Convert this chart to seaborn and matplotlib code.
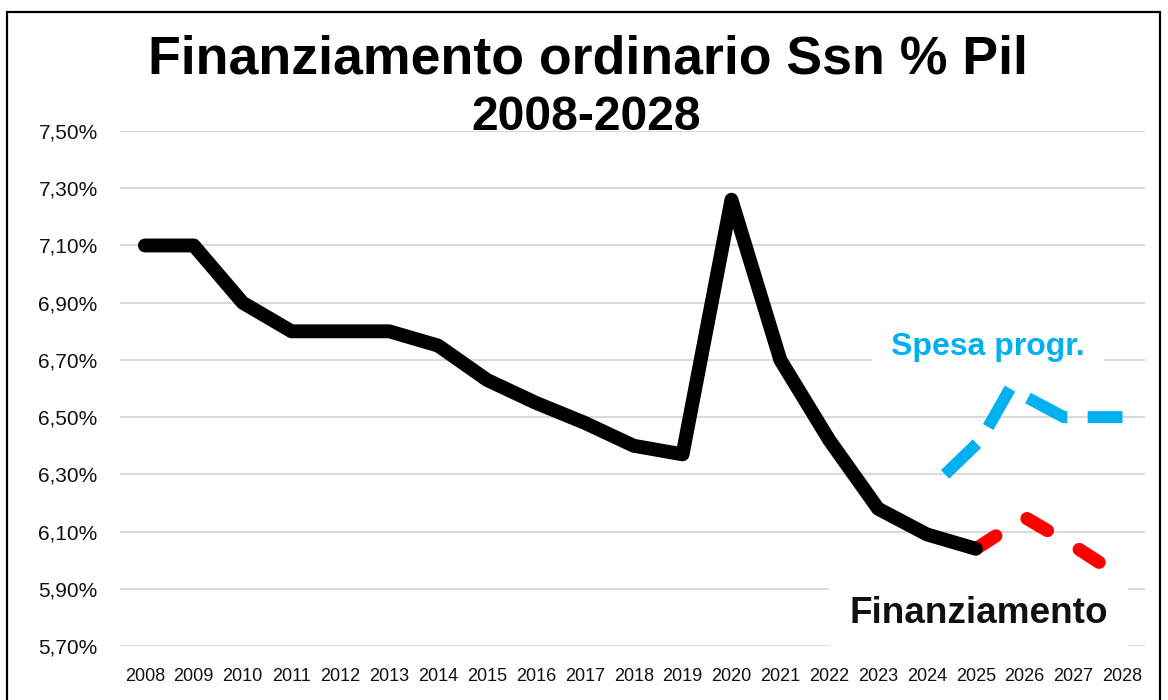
import numpy as np
import pandas as pd
import matplotlib.pyplot as plt
import seaborn as sns
from matplotlib.ticker import FuncFormatter
from matplotlib.patches import Rectangle

# valori (% del Pil)
years = list(range(2008, 2026))
finanziamento = [7.10, 7.10, 6.90, 6.80, 6.80, 6.80, 6.75, 6.63, 6.55, 6.48,
                 6.40, 6.37, 7.26, 6.70, 6.42, 6.18, 6.09, 6.04]
fin_years = [2025, 2026, 2027, 2028]
fin_proj = [6.04, 6.15, 6.05, 5.94]
# la linea della spesa e' disegnata a mano sul grafico: posizioni non intere
spesa_x = [2024.37, 2025.10, 2025.70, 2026.80, 2028.0]
spesa_proj = [6.30, 6.42, 6.60, 6.50, 6.50]
all_years = list(range(2008, 2029))
y_ticks = [5.70, 5.90, 6.10, 6.30, 6.50, 6.70, 6.90, 7.10, 7.30, 7.50]

sns.set_style("white")
plt.rcParams['font.family'] = ['Liberation Sans', 'DejaVu Sans']
plt.rcParams['text.color'] = 'black'

df_hist = pd.DataFrame({'anno': years, 'valore': finanziamento})
df_fin = pd.DataFrame({'anno': fin_years, 'valore': fin_proj})
df_spesa = pd.DataFrame({'anno': spesa_x, 'valore': spesa_proj})

fig = plt.figure(figsize=(11.68, 7), dpi=100)
ax = fig.add_axes([0.1027, 0.0771, 0.8776, 0.7357])

sns.lineplot(data=df_spesa, x='anno', y='valore', ax=ax, color='#00b0f0', sort=False,
             linewidth=8.6, linestyle=(0, (3.7, 1.7)), dash_capstyle='butt')
sns.lineplot(data=df_fin, x='anno', y='valore', ax=ax, color='#ff0000',
             linewidth=9.5, linestyle=(0, (1.8, 2.8)), dash_capstyle='round')
sns.lineplot(data=df_hist, x='anno', y='valore', ax=ax, color='black',
             linewidth=10, solid_joinstyle='round', solid_capstyle='round')

ax.set_xlim(2007.49, 2028.46)
ax.set_ylim(5.70, 7.50)
ax.set_xticks(all_years)
ax.set_xticklabels([str(a) for a in all_years], fontsize=13)
ax.set_yticks(y_ticks)
ax.yaxis.set_major_formatter(FuncFormatter(lambda v, p: f"{v:.2f}%".replace('.', ',')))
ax.tick_params(axis='y', length=0, pad=16, labelsize=15, labelcolor='#111111')
ax.tick_params(axis='x', length=0, pad=16, labelcolor='#111111')
ax.set_xlabel('')
ax.set_ylabel('')
ax.grid(axis='y', color='#d9d9d9', linewidth=1.5)
ax.set_axisbelow(True)
for s in ax.spines.values():
    s.set_visible(False)

ax.text(2025.24, 6.717, 'Spesa progr.', color='#00b0f0', fontsize=23,
        fontweight='bold', ha='center', va='baseline', zorder=1.5,
        bbox=dict(boxstyle='square,pad=0.6', fc='white', ec='none'))
ax.text(2025.06, 5.780, 'Finanziamento', color='#111111', fontsize=26.6,
        fontweight='bold', ha='center', va='baseline', zorder=5,
        bbox=dict(boxstyle='square,pad=0.55', fc='white', ec='none'))

fig.text(0.503, 0.8957, 'Finanziamento ordinario Ssn % Pil', fontsize=38.6,
         fontweight='bold', ha='center', va='baseline')
fig.text(0.502, 0.814, '2008-2028', fontsize=34.6, fontweight='bold',
         ha='center', va='baseline')

# cornice del grafico
fig.patches.append(Rectangle((7 / 1168, -0.02), 1153 / 1168, 1.003, transform=fig.transFigure,
                             fill=False, ec='black', lw=1.6))

fig.savefig('out.png', dpi=100)
